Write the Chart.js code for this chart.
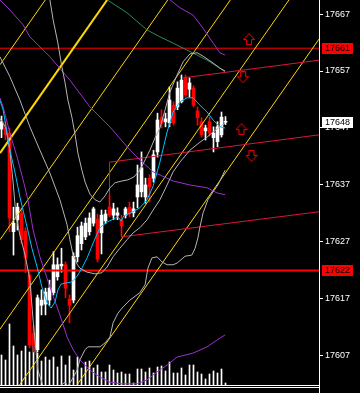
<!DOCTYPE html>
<html>
<head>
<meta charset="utf-8">
<script src="https://cdn.jsdelivr.net/npm/chart.js@4.4.1/dist/chart.umd.min.js"></script>
<style>
  html, body { margin: 0; padding: 0; background: #000; overflow: hidden; }
  canvas { display: block; }
</style>
</head>
<body>
<canvas id="chart" width="360" height="393"></canvas>
<script>
// bars, oldest first
const opens  = [17646.8,17647.0,17646.1,17628.8,17630.9,17632.1,17628.9,17621.2,17611.0,17608.1,
                17615.9,17616.1,17616.8,17618.1,17620.9,17622.8,17623.0,17617.0,17616.8,17624.4,
                17626.7,17627.9,17628.8,17630.3,17631.0,17628.6,17630.7,17633.1,17631.7,17631.7,
                17630.9,17631.7,17633.1,17632.1,17634.9,17635.8,17634.9,17638.2,17638.2,17642.8,
                17648.9,17648.1,17647.9,17651.0,17650.7,17651.6,17655.8,17653.8,17654.0,17650.0,
                17648.1,17646.5,17648.1,17645.3,17644.6,17645.8,17648.0];
const highs  = [17649.1,17648.1,17647.0,17633.1,17633.8,17633.0,17629.5,17622.1,17612.3,17617.7,
                17618.6,17618.9,17620.3,17625.3,17624.2,17625.9,17623.5,17617.7,17625.1,17629.6,
                17630.5,17631.2,17632.1,17633.1,17631.9,17632.6,17632.6,17635.3,17633.8,17633.0,
                17631.7,17633.1,17634.0,17634.0,17640.5,17642.8,17638.2,17638.8,17643.1,17649.6,
                17650.2,17649.6,17654.2,17651.6,17655.1,17656.3,17656.3,17655.8,17654.4,17650.7,
                17648.8,17647.5,17648.9,17647.2,17648.1,17649.8,17649.0];
const lows   = [17645.3,17644.9,17628.8,17624.7,17629.1,17626.7,17621.6,17608.4,17607.7,17607.7,
                17614.2,17614.2,17615.9,17617.7,17620.3,17621.7,17617.2,17612.8,17616.3,17623.5,
                17625.6,17627.4,17628.2,17629.8,17623.5,17624.9,17630.2,17631.4,17630.9,17630.9,
                17628.1,17631.2,17631.4,17631.4,17633.0,17634.9,17633.8,17634.0,17637.5,17641.9,
                17647.0,17647.2,17647.2,17647.5,17650.2,17651.4,17652.4,17652.4,17650.7,17647.5,
                17645.4,17644.9,17645.6,17642.8,17643.7,17645.4,17647.6];
const closes = [17648.1,17645.8,17631.2,17630.3,17633.1,17627.4,17624.2,17608.9,17608.9,17617.2,
                17616.8,17618.2,17618.9,17623.0,17623.0,17623.1,17618.9,17615.9,17624.5,17628.1,
                17629.8,17630.3,17631.2,17632.8,17624.0,17631.7,17631.9,17631.7,17632.8,17632.1,
                17629.8,17632.8,17631.9,17632.8,17637.0,17640.0,17637.0,17636.7,17642.3,17648.4,
                17647.9,17648.6,17651.9,17647.9,17654.0,17655.4,17652.8,17654.9,17651.0,17648.8,
                17645.8,17647.0,17646.1,17646.1,17647.2,17648.9,17648.1];
const volumes = [30,25,61,39,30,34,39,33,42,32,24,28,25,28,18,29,20,29,15,28,
                 17,23,24,17,20,13,13,20,15,12,13,11,11,2,16,16,13,17,12,18,
                 19,14,23,12,12,17,10,20,20,13,11,6,11,14,12,16,2];

// indicator lines as [bar index, price]
const fastMA = [[-0.4,17651.9],[0.4,17650.2],[1.4,17646.1],[2.1,17643.1],[3.4,17639.1],[4.6,17634.9],
  [6.4,17629.6],[7.6,17625.9],[8.9,17622.6],[10.1,17619.1],[11.4,17616.3],[12.4,17615.4],[13.4,17616.5],
  [14.1,17618.6],[14.9,17619.6],[16.1,17619.8],[17.6,17620.0],[18.9,17621.0],[20.1,17622.4],[21.4,17624.2],
  [22.9,17626.8],[24.6,17629.5],[26.4,17630.5],[27.9,17631.0],[29.1,17631.4],[29.9,17630.7],[30.6,17631.6],
  [32.9,17632.3],[34.6,17633.0],[36.4,17634.4],[37.9,17636.8],[39.6,17641.0],[41.4,17646.3],[42.9,17649.8],
  [44.6,17651.6],[46.4,17652.3],[47.9,17652.3],[49.6,17651.0],[51.4,17649.8],[52.9,17648.4],[54.6,17647.2],
  [55.9,17647.0]];
const slowMid = [[-0.4,17669.5],[2.1,17667.7],[5.4,17665.1],[7.1,17663.0],[12.1,17659.5],[17.1,17655.4],
  [22.1,17650.7],[27.1,17647.2],[31.4,17643.7],[34.6,17641.4],[37.9,17639.3],[42.9,17637.7],[47.1,17637.0],
  [51.4,17636.5],[53.9,17635.6],[55.9,17635.3]];
const slowUpper = [[40.9,17670.3],[42.1,17669.5],[44.6,17668.1],[47.9,17666.8],[50.4,17664.5],
  [52.9,17661.9],[54.6,17660.2],[55.9,17659.8]];
const slowLower = [[-0.4,17652.3],[0.4,17650.7],[2.1,17646.1],[3.9,17641.9],[5.4,17637.9],[6.6,17634.4],
  [7.9,17629.1],[9.6,17624.4],[12.1,17619.1],[14.6,17614.2],[16.4,17610.3],[17.9,17608.1],[19.6,17606.3],
  [22.1,17604.5],[24.6,17603.3],[27.1,17602.4],[30.1,17602.1],[33.9,17602.1],[36.4,17602.8],[38.9,17604.2],
  [41.4,17605.4],[43.9,17606.8],[47.9,17607.5],[51.4,17608.6],[53.9,17609.8],[55.9,17610.7]];
const bandUpper = [[12.1,17669.5],[12.9,17666.0],[14.1,17661.9],[15.1,17657.7],[15.9,17654.9],[16.6,17651.9],
  [17.6,17648.9],[18.4,17645.8],[19.1,17642.6],[20.1,17639.6],[20.9,17637.5],[22.1,17635.4],[23.4,17634.4],
  [24.6,17634.0],[25.9,17635.1],[27.1,17636.5],[28.4,17637.4],[30.1,17637.7],[31.6,17637.9],[33.1,17638.4],
  [34.6,17639.6],[35.9,17641.4],[37.1,17643.1],[38.4,17645.3],[39.6,17647.0],[40.9,17650.2],[42.1,17653.3],
  [43.9,17656.3],[45.4,17658.6],[47.1,17660.0],[48.9,17660.2],[50.4,17659.6],[52.9,17658.4],[54.6,17657.5],
  [55.9,17657.0]];
const bandMid = [[-0.4,17659.5],[2.1,17656.0],[4.6,17651.9],[7.1,17647.2],[9.6,17643.1],[12.1,17639.1],
  [14.6,17634.4],[16.4,17630.0],[17.1,17627.4],[17.9,17624.7],[18.9,17623.1],[19.6,17622.4],[21.4,17621.7],
  [23.4,17621.4],[25.1,17621.6],[26.4,17622.6],[27.9,17624.4],[29.6,17625.9],[31.4,17627.4],[32.9,17628.6],
  [34.6,17629.5],[36.4,17630.9],[37.9,17632.6],[39.6,17634.4],[41.4,17637.0],[42.9,17639.3],[44.6,17641.0],
  [47.1,17643.1],[49.6,17644.5],[51.4,17645.4],[52.9,17646.3],[54.6,17647.2],[55.9,17647.9]];
const bandLower = [[-0.4,17648.7],[1.1,17647.0],[2.1,17643.1],[2.9,17637.5],[3.6,17631.7],[4.6,17628.2],
  [5.9,17624.7],[7.1,17620.3],[7.9,17613.3],[8.6,17608.1],[9.1,17604.5],[10.1,17602.3],[10.9,17600.7],
  [13.4,17600.7],[14.6,17601.7],[15.9,17602.4],[16.6,17601.7],[17.6,17602.8],[18.9,17604.5],[19.6,17606.3],
  [20.9,17608.1],[21.6,17608.6],[24.6,17608.6],[25.9,17609.3],[27.1,17610.3],[27.9,17612.8],[29.1,17614.5],
  [30.4,17615.6],[32.1,17616.8],[34.6,17618.1],[35.9,17619.5],[36.6,17622.4],[37.6,17624.2],[38.9,17624.4],
  [40.1,17623.5],[41.4,17623.0],[42.9,17623.0],[43.9,17623.3],[45.9,17624.5],[47.6,17624.7],[48.4,17625.9],
  [49.1,17627.7],[49.6,17629.6],[50.4,17632.1],[51.6,17634.4],[52.9,17635.8],[54.1,17637.0],[55.9,17639.6]];
const greenMA = [[26.4,17669.5],[31.4,17667.2],[36.4,17664.2],[39.6,17663.0],[42.9,17661.9],[45.4,17661.0],
  [48.9,17659.8],[51.4,17658.9],[54.6,17657.5],[55.9,17656.8]];

// drawn objects
const fanLines = [
  [[-0.375,17658.1],[79.375,17738.1]],
  [[-0.375,17627.4],[79.375,17707.4]],
  [[-0.375,17611.7],[79.375,17691.7]],
  [[-0.375,17597.0],[79.375,17677.0]],
  [[-0.375,17582.6],[79.375,17662.6]]
];
const fanMain = [[-0.375,17642.6],[79.375,17722.6]];
const channelLines = [
  [[45.4,17655.8],[79.4,17658.9]],
  [[27,17633.1],[27,17641.0],[79.4,17645.8]],
  [[30,17630.5],[30,17627.9],[79.4,17632.3]]
];
const levels = [17661, 17622];
const arrowX = [61.9, 60.4, 60.0, 62.5];
const arrowY = [17662.6, 17655.9, 17646.8, 17642.1];
const arrowUp = [true, false, true, false];
const priceTicks = [17607, 17617, 17627, 17637, 17647, 17657, 17667];
const tagValues = [17661, 17622, 17648];
const tagFill = ['#ff0000', '#ff0000', '#ffffff'];

const xMin = -0.375, xMax = 79.375;
const yMin = 17601.9, yMax = 17669.46;

const toXY = pts => pts.map(([x, y]) => ({ x, y }));
const isUp = i => closes[i] >= opens[i];
const candleColor = opens.map((o, i) => isUp(i) ? '#ffffff' : '#ff0000');

function arrowImage(up) {
  const c = document.createElement('canvas');
  c.width = 12; c.height = 12;
  const g = c.getContext('2d');
  g.strokeStyle = '#ff0000';
  g.lineWidth = 1;
  g.beginPath();
  if (up) {
    g.moveTo(6, 0.5); g.lineTo(11.5, 6.5); g.lineTo(8.5, 6.5); g.lineTo(8.5, 11.5);
    g.lineTo(3.5, 11.5); g.lineTo(3.5, 6.5); g.lineTo(0.5, 6.5);
  } else {
    g.moveTo(6, 11.5); g.lineTo(11.5, 5.5); g.lineTo(8.5, 5.5); g.lineTo(8.5, 0.5);
    g.lineTo(3.5, 0.5); g.lineTo(3.5, 5.5); g.lineTo(0.5, 5.5);
  }
  g.closePath();
  g.stroke();
  return c;
}

function line(data, color, width, order) {
  return {
    type: 'line', data: toXY(data), borderColor: color, borderWidth: width || 1,
    pointRadius: 0, tension: 0, fill: false, order: order || 0
  };
}

const datasets = [
  {
    type: 'line', data: arrowX.map((x, i) => ({ x, y: arrowY[i] })),
    showLine: false, pointStyle: arrowUp.map(arrowImage), pointRadius: 6, order: 0
  },
  line(fastMA, '#00bfff', 1, 1),
  line(bandUpper, '#b4b4b4', 1, 2),
  line(bandMid, '#b4b4b4', 1, 2),
  line(bandLower, '#b4b4b4', 1, 2),
  line(greenMA, '#2e8b57', 1, 2),
  line(slowMid, '#9932cc', 1, 3),
  line(slowUpper, '#9932cc', 1, 3),
  line(slowLower, '#9932cc', 1, 3),
  ...channelLines.map(l => line(l, '#dc143c', 1, 4)),
  line(fanMain, '#ffd700', 2, 5),
  ...fanLines.map(l => line(l, '#ffd700', 1, 5)),
  line([[xMin, levels[0]], [xMax, levels[0]]], '#ff0000', 1, 5),
  line([[xMin, levels[1]], [xMax, levels[1]]], '#ff0000', 2, 5),
  {
    type: 'bar', data: opens.map((o, i) => ({ x: i, y: [Math.min(o, closes[i]), Math.max(o, closes[i])] })),
    backgroundColor: candleColor, barThickness: 3, minBarLength: 1, grouped: false, borderWidth: 0, order: 20
  },
  {
    type: 'bar', data: lows.map((l, i) => ({ x: i, y: [l, highs[i]] })),
    backgroundColor: candleColor, barThickness: 1, grouped: false, borderWidth: 0, order: 21
  },
  {
    type: 'bar', data: volumes.map((v, i) => ({ x: i, y: v })), yAxisID: 'yv',
    backgroundColor: '#ffffff', barThickness: 1, grouped: false, borderWidth: 0, order: 30
  }
];

const background = {
  id: 'background',
  beforeDraw(chart) {
    const ctx = chart.ctx;
    ctx.save();
    ctx.fillStyle = '#000';
    ctx.fillRect(0, 0, chart.width, chart.height);
    ctx.restore();
  }
};

const frame = {
  id: 'frame',
  afterDraw(chart) {
    const ctx = chart.ctx, area = chart.chartArea, y = chart.scales.y;
    ctx.save();
    ctx.strokeStyle = '#fff';
    ctx.lineWidth = 1;
    ctx.beginPath();
    ctx.moveTo(0, area.bottom + 0.5); ctx.lineTo(area.right + 1, area.bottom + 0.5);
    ctx.moveTo(0, area.bottom + 2.5); ctx.lineTo(area.right, area.bottom + 2.5);
    ctx.moveTo(area.right + 0.5, area.bottom); ctx.lineTo(area.right + 0.5, chart.height);
    ctx.stroke();
    // price tags on the axis
    ctx.font = '9px "Liberation Sans", Arial, sans-serif';
    ctx.textBaseline = 'middle';
    tagValues.forEach((v, i) => {
      const py = Math.round(y.getPixelForValue(v));
      ctx.fillStyle = tagFill[i];
      ctx.fillRect(area.right + 3, py - 5, 31, 11);
      ctx.fillStyle = '#000';
      ctx.fillText(String(v), area.right + 6, py + 0.5);
    });
    ctx.restore();
  }
};

new Chart(document.getElementById('chart'), {
  type: 'bar',
  data: { datasets },
  options: {
    responsive: false,
    animation: false,
    devicePixelRatio: 1,
    events: [],
    layout: { autoPadding: false, padding: { left: 0, right: 0, top: 0, bottom: 8 } },
    plugins: { legend: { display: false }, tooltip: { enabled: false } },
    scales: {
      x: { type: 'linear', min: xMin, max: xMax, offset: false, display: false },
      y: {
        type: 'linear', position: 'right', min: yMin, max: yMax, beginAtZero: false,
        afterBuildTicks: s => { s.ticks = priceTicks.map(v => ({ value: v })); },
        afterFit: s => { s.width = 41; s.paddingTop = 0; s.paddingBottom = 0; },
        grid: { drawOnChartArea: false, color: '#fff', tickLength: 4 },
        border: { display: true, color: '#fff', width: 1 },
        ticks: {
          color: '#fff', padding: 2, autoSkip: false,
          font: { family: '"Liberation Sans", Arial, sans-serif', size: 9 },
          callback: v => String(v)
        }
      },
      yv: { type: 'linear', display: false, min: 0, max: 385 }
    }
  },
  plugins: [background, frame]
});
</script>
</body>
</html>
